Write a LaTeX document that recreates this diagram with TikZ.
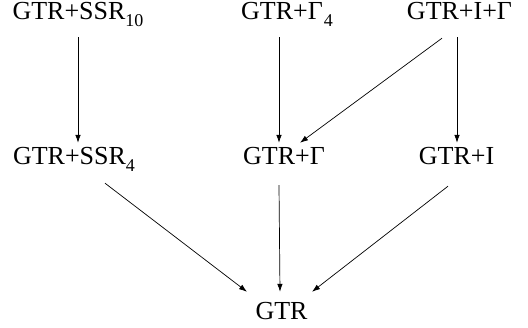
\documentclass[tikz,border=0pt]{standalone}
\usepackage{fontspec}
\setmainfont{Liberation Serif}
\usetikzlibrary{arrows.meta}
\newcommand\sbs[1]{\raisebox{-7pt}{\fontsize{18}{18}\selectfont #1}}
\begin{document}
\begin{tikzpicture}[x=1pt,y=1pt,
  lbl/.style={anchor=base,inner sep=0pt,text height=16pt,text depth=7pt,font=\fontsize{26}{30}\selectfont},
  arr/.style={line width=0.7pt,-{Latex[length=8pt,width=5.5pt]}}]
\useasboundingbox (0,0) rectangle (528,327);
\node[lbl] (a) at (78,307) {GTR+SSR\sbs{10}};
\node[lbl] (b) at (287,307) {GTR+Γ\kern1pt\sbs{4}};
\node[lbl] (c) at (459.5,307) {GTR+I+Γ};
\node[lbl] (d) at (74,162) {GTR+SSR\sbs{4}};
\node[lbl] (e) at (284,162) {GTR+Γ};
\node[lbl] (f) at (456.5,162) {GTR+I};
\node[lbl] (g) at (281.5,7) {GTR};
\draw[arr] ([yshift=-10pt]a.south) -- ([xshift=4pt,yshift=6pt]d.north);
\draw[arr] ([xshift=-8pt,yshift=-10pt]b.south) -- ([xshift=-5pt,yshift=6pt]e.north);
\draw[arr] ([xshift=-2.5pt,yshift=-10pt]c.south) -- ([xshift=0.5pt,yshift=6pt]f.north);
\draw[arr] ([xshift=-17.5pt,yshift=-11pt]c.south) -- ([xshift=16pt,yshift=6pt]e.north);
\draw[arr] ([xshift=31pt,yshift=-11pt]d.south) -- ([xshift=-34.5pt,yshift=12pt]g.north);
\draw[arr] ([xshift=-5pt,yshift=-13pt]e.south) -- ([xshift=-1.5pt,yshift=12pt]g.north);
\draw[arr] ([xshift=-8.5pt,yshift=-14pt]f.south) -- ([xshift=30.5pt,yshift=12pt]g.north);
\end{tikzpicture}
\end{document}
